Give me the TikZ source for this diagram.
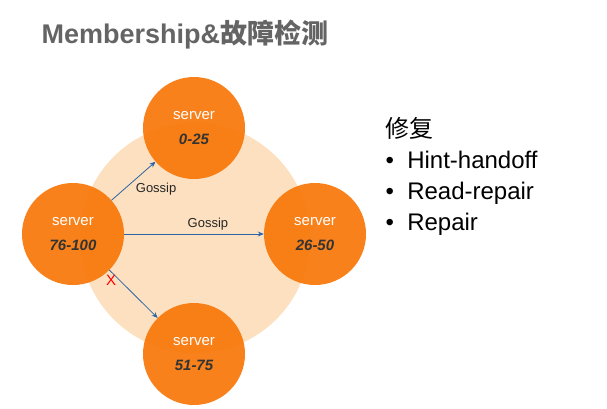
\documentclass[tikz,border=0pt]{standalone}
\usepackage{fontspec}
\setmainfont{Liberation Sans}
\newfontfamily\cjk{Noto Sans CJK SC}
\usetikzlibrary{arrows.meta}
\definecolor{ring-orange}{RGB}{253,224,192}
\definecolor{srv-orange}{RGB}{248,118,8}
\definecolor{link-blue}{RGB}{45,100,165}
\definecolor{title-gray}{RGB}{100,100,100}

\begin{document}
\begin{tikzpicture}
  [
    x=1pt, y=-1pt,
    server/.style = {circle, fill=srv-orange, fill opacity=0.92, text opacity=1,
                     minimum size=102pt, inner sep=0pt, align=center,
                     font=\fontsize{15}{17}\selectfont},
    link/.style = {-{Stealth[length=6pt,width=5pt]}, link-blue, thick},
    lbl/.style = {font=\fontsize{13}{15}\selectfont, text=black!85}
  ]
\useasboundingbox (0,0) rectangle (607,408);
% Title
\node[anchor=west, text=title-gray, font=\fontsize{27}{30}\selectfont\bfseries] (title) at (38,35)
  {Membership\&{\cjk 故障检测}};
% Ring
\fill[ring-orange] (195,238) circle (115);
% Servers
\node[server] (top)    at (194,128) {\textcolor{white}{server}\\[8pt]\textbf{\textit{\textcolor{black!80}{0-25}}}};
\node[server] (left)   at (73,234)  {\textcolor{white}{server}\\[8pt]\textbf{\textit{\textcolor{black!80}{76-100}}}};
\node[server] (right)  at (315,234) {\textcolor{white}{server}\\[8pt]\textbf{\textit{\textcolor{black!80}{26-50}}}};
\node[server] (bottom) at (194,354) {\textcolor{white}{server}\\[8pt]\textbf{\textit{\textcolor{black!80}{51-75}}}};
% Gossip links
\draw[link] (left) -- node[lbl, pos=0.5, below right, inner sep=2pt]{Gossip} (top);
\draw[link] (left) -- node[lbl, pos=0.6, above]{Gossip} (right);
\draw[link] (left) -- node[pos=0.22, left, text=red, font=\fontsize{15}{15}\selectfont]{X} (bottom);
% Repair list
\node[anchor=north west, align=left, font=\fontsize{24}{31}\selectfont] (repair) at (382,114)
  {{\cjk 修复}\\
   \textbullet\ \ Hint-handoff\\
   \textbullet\ \ Read-repair\\
   \textbullet\ \ Repair};
\end{tikzpicture}
\end{document}
